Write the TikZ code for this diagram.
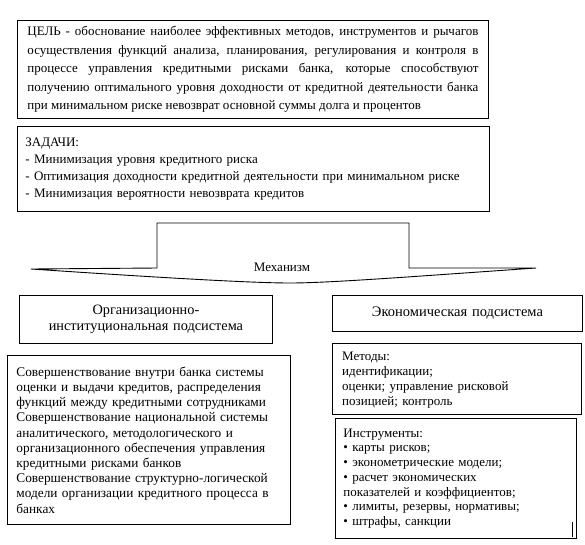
\documentclass[tikz,border=0pt]{standalone}
\usepackage{fontspec}
\setmainfont{Liberation Serif}
\begin{document}
\begin{tikzpicture}[x=1pt,y=-1pt,
  box/.style={draw, line width=0.9pt, anchor=north west, inner ysep=0pt},
  shapeline/.style={line width=0.9pt, line join=miter}]
\useasboundingbox (0,0) rectangle (585,544);
% Goal
\node[box, minimum width=471pt, minimum height=98pt, inner xsep=10pt, text width=451pt, align=justify,
  font=\fontsize{13}{18.5}\selectfont] (goal) at (17,20)
  {\tolerance=10000 ЦЕЛЬ - обоснование наиболее эффективных методов, инструментов и рычагов\linebreak
   осуществления функций анализа, планирования, регулирования и контроля в\linebreak
   процессе управления кредитными рисками банка, которые способствуют\linebreak
   получению оптимального уровня доходности от кредитной деятельности банка\linebreak
   при минимальном риске невозврат основной суммы долга и процентов};
% Tasks
\node[box, minimum width=472pt, minimum height=85pt, inner xsep=8pt, text width=456pt, align=left,
  font=\fontsize{13}{17}\selectfont] (tasks) at (17,126)
  {ЗАДАЧИ:\\
   - Минимизация уровня кредитного риска\\
   - Оптимизация доходности кредитной деятельности при минимальном риске\\
   - Минимизация вероятности невозврата кредитов};
% Mechanism shape
\coordinate (mL) at (31,269);
\coordinate (mR) at (536,268);
\coordinate (mB) at (290,283);
\draw[shapeline] (mL) -- (157,268) -- (157,223) -- (409,223) -- (409,268) -- (mR)
  .. controls (420,276) and (330,283) .. (mB)
  .. controls (250,283) and (150,277) .. (mL);
\node[font=\fontsize{13}{15}\selectfont, inner sep=0pt] (mech) at (282,267) {Механизм};
% Subsystem titles
\node[box, minimum width=253pt, minimum height=48pt, text width=245pt, inner xsep=4pt, align=center,
  font=\fontsize{14.3}{16.5}\selectfont] (org) at (19,295)
  {Организационно-\\институциональная подсистема};
\node[box, minimum width=250pt, minimum height=36pt, text width=242pt, inner xsep=4pt, align=center,
  font=\fontsize{14.5}{16.5}\selectfont] (econ) at (332,295)
  {Экономическая подсистема};
% Left detail box
\node[box, minimum width=277pt, minimum height=169pt, inner xsep=9pt, text width=265pt, align=left,
  font=\fontsize{13.3}{15.2}\selectfont] (orgd) at (7,355)
  {Совершенствование внутри банка системы\\
   оценки и выдачи кредитов, распределения\\
   функций между кредитными сотрудниками\\
   Совершенствование национальной системы\\
   аналитического, методологического и\\
   организационного обеспечения управления\\
   кредитными рисками банков\\
   Совершенствование структурно-логической\\
   модели организации кредитного процесса в\\
   банках};
% Methods
\node[box, minimum width=249pt, minimum height=71pt] (meth) at (332,343) {};
\node[anchor=north west, inner sep=0pt, text width=229pt, align=left,
  font=\fontsize{13}{15}\selectfont] (methT) at (342,352)
  {Методы:\\
   идентификации;\\
   оценки; управление рисковой\\
   позицией; контроль};
% Instruments
\node[box, minimum width=241pt, minimum height=120pt, inner xsep=8pt, text width=225pt, align=left,
  font=\fontsize{13}{14.7}\selectfont] (instr) at (335,418)
  {Инструменты:\\
   • карты рисков;\\
   • эконометрические модели;\\
   • расчет экономических\\
   показателей и коэффициентов;\\
   • лимиты, резервы, нормативы;\\
   • штрафы, санкции};
\coordinate (tick1) at (572,522);
\coordinate (tick2) at (572,537);
\draw[line width=0.8pt] (tick1) -- (tick2);
\end{tikzpicture}
\end{document}
